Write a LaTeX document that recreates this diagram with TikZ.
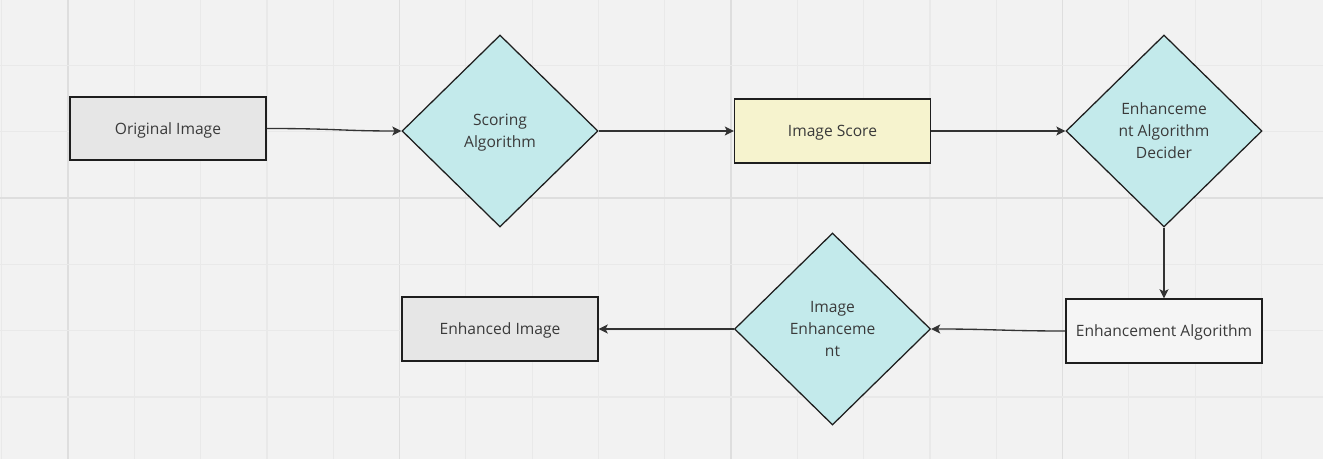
\documentclass[tikz,border=0pt]{standalone}
\usepackage{fontspec}
\setmainfont{Open Sans}
\usetikzlibrary{shapes.geometric,arrows.meta}
\definecolor{bg}{HTML}{F2F2F2}
\definecolor{gridminor}{HTML}{E9E9E9}
\definecolor{gridmajor}{HTML}{DEDEDE}
\definecolor{edgecol}{HTML}{1E1E1E}
\definecolor{arrowcol}{HTML}{333333}
\definecolor{txt}{HTML}{3A3A3A}
\definecolor{greyfill}{HTML}{E6E6E6}
\definecolor{cyanfill}{HTML}{C3EAEB}
\definecolor{yellowfill}{HTML}{F6F3CE}
\definecolor{whitefill}{HTML}{F5F5F5}
\tikzset{
  base/.style={draw=edgecol, line width=0.95pt, text=txt, font=\fontsize{11.7pt}{16.5pt}\selectfont, align=center, inner sep=0pt, text depth=0pt},
  rectbox/.style={base, rectangle, minimum width=147pt, minimum height=48pt},
  diabox/.style={base, diamond, fill=cyanfill, minimum width=147pt, minimum height=144pt},
  conn/.style={draw=arrowcol, line width=1pt, -{Stealth[length=6.8pt,width=6.8pt,inset=1.6pt]}}
}
\begin{document}
\begin{tikzpicture}[x=0.75pt,y=-0.75pt]
\fill[bg] (0,0) rectangle (1323,459);
\useasboundingbox (0,0) rectangle (1323,459);
% grid
\foreach \k in {-1,...,18}{
  \pgfmathsetmacro{\xx}{68+66.3*\k}
  \pgfmathtruncatemacro{\m}{mod(\k+5,5)}
  \ifnum\m=0
    \draw[gridmajor, line width=1.2pt] (\xx,0) -- (\xx,459);
  \else
    \draw[gridminor, line width=0.9pt] (\xx,0) -- (\xx,459);
  \fi
}
\foreach \k in {-3,...,3}{
  \pgfmathsetmacro{\yy}{198+66.3*\k}
  \ifnum\k=0
    \draw[gridmajor, line width=1.2pt] (0,\yy) -- (1323,\yy);
  \else
    \draw[gridminor, line width=0.9pt] (0,\yy) -- (1323,\yy);
  \fi
}
% nodes
\node[rectbox, fill=greyfill, minimum height=47.25pt] (orig) at (168,128.5) {Original Image};
\node[diabox] (scor) at (500,131) {Scoring\\Algorithm};
\node[rectbox, fill=yellowfill] (score) at (832.5,131) {Image Score};
\node[diabox] (decid) at (1164,131) {Enhanceme\\nt Algorithm\\Decider};
\node[rectbox, fill=whitefill] (alg) at (1164,331) {Enhancement Algorithm};
\node[diabox] (ienh) at (832.5,329) {Image\\Enhanceme\\nt};
\node[rectbox, fill=greyfill] (out) at (500,329) {Enhanced Image};
% connectors
\draw[conn] (orig.east) .. controls +(70,0) and +(-60,0) .. (scor.west);
\draw[conn] (scor.east) -- (score.west);
\draw[conn] (score.east) -- (decid.west);
\draw[conn] (decid.south) -- (alg.north);
\draw[conn] (alg.west) .. controls +(-60,0) and +(60,0) .. (ienh.east);
\draw[conn] (ienh.west) -- (out.east);
\end{tikzpicture}
\end{document}
